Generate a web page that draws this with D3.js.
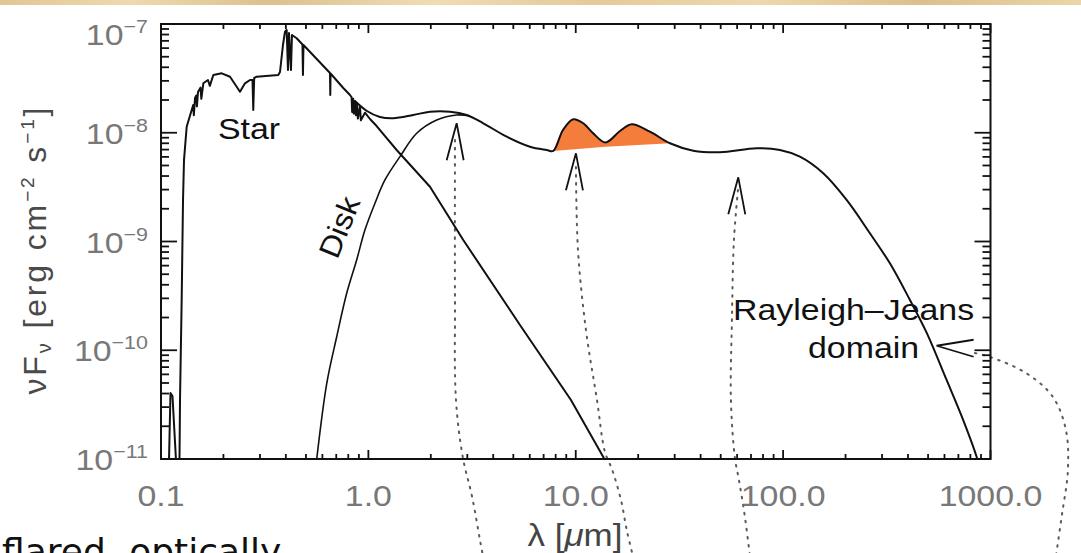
<!DOCTYPE html>
<html><head><meta charset="utf-8">
<script src="https://cdn.jsdelivr.net/npm/d3@7"></script>
<style>body{margin:0;background:#fff;overflow:hidden}svg{display:block}</style>
</head><body>
<svg id="c" width="1081" height="553"></svg>
<script>
// ---------- DATA ----------
// Stellar photosphere (wavelength in micron, nu F_nu in erg cm^-2 s^-1)
const starWl = [0.1093,0.1111,0.1136,0.1181,0.1228,0.1235,0.1258,0.1277,0.1291,0.1330,0.1406,0.1430,0.1440,0.1459,0.1480,0.1490,0.1508,0.1550,0.1565,0.1600,0.1685,0.1720,0.1788,0.1963,0.2152,0.2317,0.2404,0.2541,0.2686,0.2762,0.2786,0.2814,0.2892,0.3678,0.3748,0.3874,0.3962,0.4037,0.4095,0.4142,0.4234,0.4281,0.4511,0.4810,0.4837,0.4864,0.6530,0.6551,0.6572,0.7568,0.8153,0.8300,0.8350,0.8450,0.8500,0.8619,0.8700,0.8800,0.8900,0.9110,0.9200,0.9629,1.018,1.096,1.369,1.982,2.868,5.383,9.482,13.83];
const starFlux = [9.8e-12,4.05e-11,3.80e-11,9.8e-12,9.8e-12,3.49e-11,2.90e-10,2.41e-9,5.61e-9,1.136e-8,1.619e-8,1.80e-8,1.45e-8,2.087e-8,2.20e-8,1.75e-8,2.369e-8,2.60e-8,2.05e-8,2.849e-8,3.056e-8,2.70e-8,3.40e-8,3.52e-8,3.276e-8,2.651e-8,2.385e-8,2.849e-8,3.056e-8,3.056e-8,1.619e-8,3.187e-8,3.276e-8,3.40e-8,3.62e-8,6.41e-8,8.49e-8,8.81e-8,3.78e-8,8.27e-8,3.78e-8,7.92e-8,7.39e-8,6.48e-8,3.40e-8,6.41e-8,3.54e-8,2.224e-8,3.506e-8,2.58e-8,2.224e-8,2.12e-8,1.55e-8,2.05e-8,1.50e-8,1.959e-8,1.45e-8,1.87e-8,1.35e-8,1.762e-8,1.30e-8,1.529e-8,1.338e-8,1.153e-8,6.94e-9,3.19e-9,1.032e-9,1.707e-10,3.49e-11,9.8e-12];
// Disk emission (rising part, before merging with total)
const diskWl = [0.560,0.630,0.7035,0.786,0.878,0.963,1.076,1.202,1.420,1.710,2.135,2.665,3.09];
const diskFlux = [9.0e-12,4.97e-11,1.33e-10,3.34e-10,6.76e-10,1.28e-9,2.25e-9,3.68e-9,6.03e-9,9.89e-9,1.31e-8,1.456e-8,1.43e-8];
// Total SED (star + disk)
const totalWl = [0.862,0.984,1.137,1.318,1.646,1.982,2.474,2.979,3.581,4.644,6.015,7.240,7.790,8.676,9.727,10.87,12.10,13.91,16.34,18.60,22.79,28.46,36.86,49.59,74.5,96.5,120.5,156.1,202.4,262.1,327.3,408.8,491.9,614.2,738.5,857,890];
const totalFlux = [1.959e-8,1.585e-8,1.396e-8,1.358e-8,1.456e-8,1.562e-8,1.562e-8,1.456e-8,1.222e-8,9.20e-9,7.44e-9,6.94e-9,6.80e-9,1.06e-8,1.33e-8,1.222e-8,9.95e-9,8.14e-9,1.038e-8,1.196e-8,1.023e-8,8.00e-9,6.84e-9,6.61e-9,7.19e-9,6.94e-9,6.02e-9,4.24e-9,2.41e-9,1.19e-9,6.30e-10,2.90e-10,1.453e-10,5.33e-11,2.28e-11,1.05e-11,8.0e-12];
// Silicate emission features: wavelength range and continuum baseline under them
const featureRange = [7.79, 28.46];
const featureBaseWl = [7.79, 13.91, 28.46];
const featureBaseFlux = [6.80e-9, 7.44e-9, 8.00e-9];
// Annotation arrows (tips) and dotted leader lines
const arrowWl = [2.665, 10.02, 60.77];
const arrowFlux = [1.222e-8, 6.47e-9, 3.89e-9];
const rjArrowWl = [549.6];
const rjArrowFlux = [1.10e-10];
const lead1Wl = [2.616,2.616,2.645,2.858,3.158,3.452,3.569];
const lead1Flux = [8.58e-9,2.90e-10,3.49e-11,1.021e-11,4.57e-12,1.80e-12,1.28e-12];
const lead2Wl = [10.02,10.25,11.20,12.66,13.83,14.94,16.52,17.65,18.87];
const lead2Flux = [4.84e-9,8.35e-10,1.536e-10,3.49e-11,1.16e-11,8.09e-12,4.20e-12,2.18e-12,1.28e-12];
const lead3Wl = [60.56,57.92,56.64,56.01,58.56,61.24,65.43,69.16];
const lead3Flux = [2.98e-9,1.032e-9,1.898e-10,3.49e-11,1.021e-11,6.41e-12,2.93e-12,1.28e-12];
const lead4Wl = [841,993.4,1482,1999.6,2310,2362,2209,2068];
const lead4Flux = [9.43e-11,8.67e-11,6.18e-11,3.72e-11,1.85e-11,7.92e-12,3.05e-12,1.28e-12];
// Axis ticks
const xMajor = [0.1, 1, 10, 100, 1000];
const xLabels = ["0.1", "1.0", "10.0", "100.0", "1000.0"];
const yExponents = [-7, -8, -9, -10, -11];

// ---------- CHART ----------
const svg = d3.select('#c');
const L = 161, R = 990.5, T = 24, B = 459;
const x = d3.scaleLog().domain([0.1, 1000]).range([L, R]);
const y = d3.scaleLog().domain([1e-11, 1e-7]).range([B, T]);
const SX = 1.13; // horizontal stretch of the original image
const pts = (w, f) => w.map((v, i) => [v, f[i]]);

// parchment strip on top
const defs = svg.append('defs');
const g1 = defs.append('linearGradient').attr('id', 'parch');
[['0%','#e2c594'],['12%','#efd9ae'],['25%','#dcc08f'],['40%','#f0dcb4'],['55%','#e4c99a'],['70%','#efd8ad'],['85%','#dcbf8c'],['100%','#ecd5a8']]
  .forEach(s => g1.append('stop').attr('offset', s[0]).attr('stop-color', s[1]));
svg.append('rect').attr('x', 0).attr('y', 0).attr('width', 1081).attr('height', 5).attr('fill', 'url(#parch)');

defs.append('clipPath').attr('id', 'plot').append('rect')
  .attr('x', L).attr('y', T).attr('width', R - L).attr('height', B - T);

// dotted leader lines (drawn first, under everything)
const lineLin = d3.line().x(d => x(d[0])).y(d => y(d[1]));
const lineSmooth = d3.line().x(d => x(d[0])).y(d => y(d[1])).curve(d3.curveCatmullRom.alpha(0.5));
[[lead1Wl, lead1Flux], [lead2Wl, lead2Flux], [lead3Wl, lead3Flux], [lead4Wl, lead4Flux]].forEach(l => {
  svg.append('path').attr('d', lineSmooth(pts(l[0], l[1]))).attr('fill', 'none')
    .attr('stroke', '#5a5a5a').attr('stroke-width', 2).attr('stroke-dasharray', '1.6 6.5').attr('stroke-linecap', 'round');
});

const plot = svg.append('g').attr('clip-path', 'url(#plot)');

// silicate features fill
const tot = pts(totalWl, totalFlux);
const feat = tot.filter(d => d[0] >= featureRange[0] && d[0] <= featureRange[1]);
const base = pts(featureBaseWl, featureBaseFlux).reverse();
const fillPath = lineSmooth(feat) + lineLin(base).replace(/^M/, 'L') + 'Z';
plot.append('path').attr('d', fillPath).attr('fill', '#f47d3c').attr('stroke', 'none');

// curves
plot.append('path').attr('d', lineLin(pts(starWl, starFlux))).attr('fill', 'none')
  .attr('stroke', '#111').attr('stroke-width', 2).attr('stroke-linejoin', 'round');
plot.append('path').attr('d', lineSmooth(pts(diskWl, diskFlux))).attr('fill', 'none')
  .attr('stroke', '#111').attr('stroke-width', 1.6);
plot.append('path').attr('d', lineSmooth(tot)).attr('fill', 'none')
  .attr('stroke', '#111').attr('stroke-width', 2);

// frame
svg.append('rect').attr('x', L).attr('y', T).attr('width', R - L).attr('height', B - T)
  .attr('fill', 'none').attr('stroke', '#111').attr('stroke-width', 2);

// ticks
const tg = svg.append('g').attr('stroke', '#111').attr('stroke-width', 1.8);
const xMinor = [];
xMajor.slice(0, -1).forEach(d => { for (let k = 2; k <= 9; k++) xMinor.push(d * k); });
xMajor.forEach(v => {
  tg.append('line').attr('x1', x(v)).attr('x2', x(v)).attr('y1', B).attr('y2', B - 9);
  tg.append('line').attr('x1', x(v)).attr('x2', x(v)).attr('y1', T).attr('y2', T + 9);
});
xMinor.forEach(v => {
  tg.append('line').attr('x1', x(v)).attr('x2', x(v)).attr('y1', B).attr('y2', B - 5);
  tg.append('line').attr('x1', x(v)).attr('x2', x(v)).attr('y1', T).attr('y2', T + 5);
});
const yMajor = yExponents.map(e => Math.pow(10, e));
const yMinor = [];
yMajor.slice(1).forEach(d => { for (let k = 2; k <= 9; k++) yMinor.push(d * k); });
yMajor.forEach(v => {
  tg.append('line').attr('x1', L).attr('x2', L + 16).attr('y1', y(v)).attr('y2', y(v));
  tg.append('line').attr('x1', R).attr('x2', R - 16).attr('y1', y(v)).attr('y2', y(v));
});
yMinor.forEach(v => {
  tg.append('line').attr('x1', L).attr('x2', L + 8).attr('y1', y(v)).attr('y2', y(v));
  tg.append('line').attr('x1', R).attr('x2', R - 8).attr('y1', y(v)).attr('y2', y(v));
});

const FONT = "'Liberation Sans', Arial, Helvetica, sans-serif";
function stext(px, py, anchor, size, color) {
  return svg.append('text').attr('transform', `translate(${px},${py}) scale(${SX},1)`)
    .attr('text-anchor', anchor).attr('font-family', FONT).attr('font-size', size).attr('fill', color);
}

// x tick labels
xMajor.forEach((v, i) => {
  stext(x(v), 506, 'middle', 30, '#787878').text(xLabels[i]);
});
// y tick labels
yMajor.forEach((v, i) => {
  const t = stext(148, Math.max(y(v) + 11, 45), 'end', 30, '#787878');
  t.append('tspan').text('10');
  t.append('tspan').attr('font-size', 19).attr('dy', -12).text('\u2212' + Math.abs(yExponents[i]));
});

// axis titles
const yt = svg.append('text').attr('transform', 'translate(46,251) rotate(-90)')
  .attr('text-anchor', 'middle').attr('font-family', FONT).attr('font-size', 32).attr('fill', '#4a4a4a')
  .attr('textLength', 287).attr('lengthAdjust', 'spacing');
yt.append('tspan').text('\u03bdF');
yt.append('tspan').attr('font-size', 20).attr('dy', 5).text('\u03bd');
yt.append('tspan').attr('dy', -5).text(' [erg cm');
yt.append('tspan').attr('font-size', 19).attr('dy', -12).text('\u22122');
yt.append('tspan').attr('dy', 12).text(' s');
yt.append('tspan').attr('font-size', 19).attr('dy', -12).text('\u22121');
yt.append('tspan').attr('dy', 12).text(']');

const xt = stext(575, 546, 'middle', 31, '#444');
xt.append('tspan').text('\u03bb [');
xt.append('tspan').attr('font-style', 'italic').text('\u03bc');
xt.append('tspan').text('m]');

// curve labels
stext(218, 139, 'start', 30, '#111').text('Star');
svg.append('text').attr('transform', 'translate(349,231) rotate(-68) scale(1.08,1)')
  .attr('text-anchor', 'middle').attr('font-family', FONT).attr('font-size', 30).attr('fill', '#111').text('Disk');
stext(733, 320, 'start', 30, '#111').text('Rayleigh\u2013Jeans');
stext(808, 358, 'start', 30, '#111').text('domain');

// arrow heads
const ag = svg.append('g').attr('fill', 'none').attr('stroke', '#111').attr('stroke-width', 1.8);
arrowWl.forEach((w, i) => {
  const px = x(w), py = y(arrowFlux[i]);
  ag.append('path').attr('d', `M${px - 10},${py + 37}L${px},${py}L${px + 7},${py + 37}`);
});
rjArrowWl.forEach((w, i) => {
  const px = x(w), py = y(rjArrowFlux[i]);
  ag.append('path').attr('d', `M${px + 37},${py - 6}L${px},${py}L${px + 37},${py + 11}`);
});

// bottom-left caption (cut off by the image edge, as in the original)
svg.append('text').attr('x', 2).attr('y', 564).attr('font-family', "'DejaVu Sans', Verdana, sans-serif")
  .attr('font-size', 36).attr('fill', '#111').attr('word-spacing', 12).text('flared optically');
</script>
</body></html>
